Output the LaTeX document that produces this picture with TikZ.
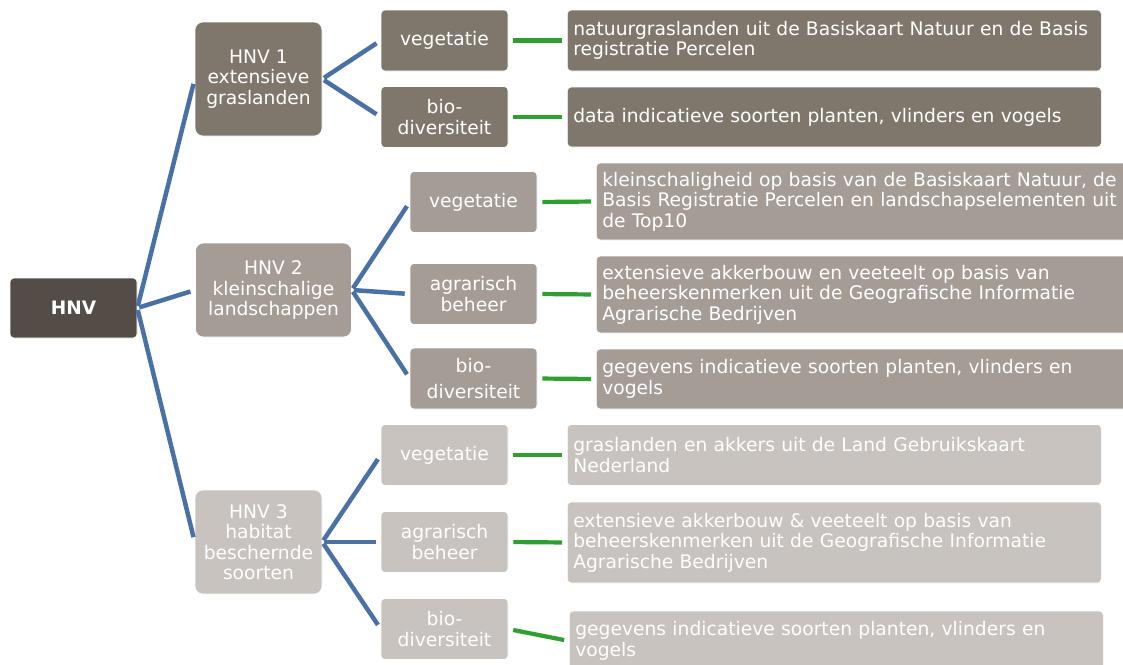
\documentclass[tikz,border=0pt]{standalone}
\usepackage{fontspec}
\setmainfont{DejaVu Sans}
\definecolor{hnvdark}{HTML}{544C46}
\definecolor{hnvone}{HTML}{7F776B}
\definecolor{hnvtwo}{HTML}{A49C95}
\definecolor{hnvthree}{HTML}{C8C3BE}
\definecolor{hnvblue}{HTML}{4A71A5}
\definecolor{hnvgreen}{HTML}{2DA02D}

\begin{document}
\begin{tikzpicture}[x=1pt, y=-1pt,
  every node/.style={text=white, font=\fontsize{18.7}{20.5}\selectfont, draw=white, line width=0.6pt, inner sep=0pt},
  hnvroot/.style={fill=hnvdark, rounded corners=4pt, minimum width=127pt, minimum height=60pt, font=\fontsize{18.5}{20}\selectfont\bfseries},
  hnvbox/.style={rounded corners=8pt, align=center},
  subbox/.style={rounded corners=4pt, align=center, minimum width=127pt, minimum height=61pt},
  infobox/.style={rounded corners=4pt, align=left, anchor=west, inner xsep=6pt, text width=522pt, minimum height=61pt},
  blueline/.style={draw=hnvblue, line width=4.5pt, shorten <=2pt, shorten >=5pt},
  greenline/.style={draw=hnvgreen, line width=4.2pt, shorten <=5pt, shorten >=5pt}]
  \clip (0,0) rectangle (1123,664);

  \node[hnvroot] (hnv) at (73.5,308) {HNV};
  \node[hnvbox, fill=hnvone, minimum width=127pt, minimum height=114pt] (h1) at (258.5,79) {HNV 1\\extensieve\\graslanden};
  \node[hnvbox, fill=hnvtwo, minimum width=156pt, minimum height=94pt] (h2) at (273.5,290) {HNV 2\\kleinschalige\\landschappen};
  \node[hnvbox, fill=hnvthree, minimum width=127pt, minimum height=104pt] (h3) at (258.5,542) {HNV 3\\habitat\\beschernde\\soorten};

  \node[subbox, fill=hnvone] (h1veg) at (444.5,40.5) {vegetatie};
  \node[subbox, fill=hnvone] (h1bio) at (444.5,117) {bio-\\diversiteit};
  \node[subbox, fill=hnvtwo] (h2veg) at (473.5,202) {vegetatie};
  \node[subbox, fill=hnvtwo] (h2agr) at (473.5,294) {agrarisch\\beheer};
  \node[subbox, fill=hnvtwo] (h2bio) at (473.5,378.5) {bio-\\[5pt]diversiteit};
  \node[subbox, fill=hnvthree] (h3veg) at (444.5,455) {vegetatie};
  \node[subbox, fill=hnvthree] (h3agr) at (444.5,542) {agrarisch\\beheer};
  \node[subbox, fill=hnvthree] (h3bio) at (444.5,629) {bio-\\diversiteit};

  \node[infobox, fill=hnvone] (i1veg) at (567,40.5) {natuurgraslanden uit de Basiskaart Natuur en de Basis\\registratie Percelen};
  \node[infobox, fill=hnvone, minimum height=60pt] (i1bio) at (567,117) {data indicatieve soorten planten, vlinders en vogels};
  \node[infobox, fill=hnvtwo, minimum height=77pt] (i2veg) at (596,201.5) {kleinschaligheid op basis van de Basiskaart Natuur, de\\Basis Registratie Percelen en landschapselementen uit\\de Top10};
  \node[infobox, fill=hnvtwo, minimum height=77pt] (i2agr) at (596,294.5) {extensieve akkerbouw en veeteelt op basis van\\beheerskenmerken uit de Geografische Informatie\\Agrarische Bedrijven};
  \node[infobox, fill=hnvtwo, minimum height=60pt] (i2bio) at (596,379) {gegevens indicatieve soorten planten, vlinders en\\vogels};
  \node[infobox, fill=hnvthree] (i3veg) at (567,455) {graslanden en akkers uit de Land Gebruikskaart\\Nederland};
  \node[infobox, fill=hnvthree, minimum height=81pt] (i3agr) at (567,542.5) {extensieve akkerbouw \& veeteelt op basis van\\beheerskenmerken uit de Geografische Informatie\\Agrarische Bedrijven};
  \node[infobox, fill=hnvthree, minimum height=60pt] (i3bio) at (569,641) {gegevens indicatieve soorten planten, vlinders en\\vogels};

  \foreach \h in {h1,h2,h3}
    \draw[blueline] (hnv.east) -- (\h.west);
  \foreach \s in {1veg,1bio,2veg,2agr,2bio,3veg,3agr,3bio}
    \draw[greenline] (h\s.east) -- (i\s.west);
  \foreach \s in {veg,bio}
    \draw[blueline] (h1.east) -- (h1\s.west);
  \foreach \s in {veg,agr,bio}{
    \draw[blueline] (h2.east) -- (h2\s.west);
    \draw[blueline] (h3.east) -- (h3\s.west);
  }
\end{tikzpicture}
\end{document}
